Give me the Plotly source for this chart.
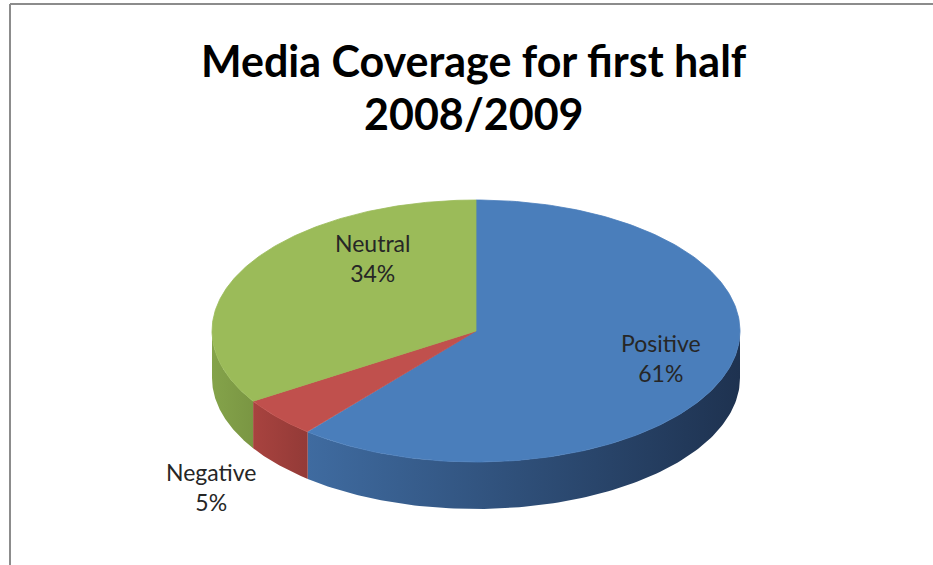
import numpy as np
import plotly.graph_objects as go

categories = ["Positive", "Negative", "Neutral"]
values = [61, 5, 34]
top_colors = ["#4a7ebb", "#c0504d", "#9bbb59"]
wall_colors = [["#3f6ba0", "#1e3250"], ["#a8433f", "#933a37"], ["#84a34a", "#7a9643"]]
label_pos = [(661, 358), (211, 487), (372, 258)]

title_lines = ["Media Coverage for first half", "2008/2009"]

W, H = 933, 565
cx, cy, rx, ry, depth = 476, 331, 264, 131, 47

fig = go.Figure()
total = float(sum(values))
bounds = np.concatenate([[0], np.cumsum(values)]) / total * 360.0


def pt(theta_deg, dy=0.0):
    t = np.radians(theta_deg)
    return cx + rx * np.sin(t), cy - ry * np.cos(t) + dy


# side walls (front half: 90..270 deg clockwise from top)
for i, cat in enumerate(categories):
    a0, a1 = bounds[i], bounds[i + 1]
    b0, b1 = max(a0, 90.0), min(a1, 270.0)
    if b1 <= b0:
        continue
    th = np.linspace(b0, b1, 120)
    xt, yt = pt(th)
    xb, yb = pt(th[::-1], depth)
    xs = np.concatenate([xt, xb, [xt[0]]])
    ys = np.concatenate([yt, yb, [yt[0]]])
    fig.add_trace(go.Scatter(
        x=xs, y=ys, mode="lines", line=dict(width=0),
        fill="toself",
        fillgradient=dict(type="horizontal",
                          colorscale=[[0, wall_colors[i][0]], [1, wall_colors[i][1]]]),
        hoverinfo="skip", showlegend=False))

# top faces
for i, cat in enumerate(categories):
    a0, a1 = bounds[i], bounds[i + 1]
    th = np.linspace(a0, a1, 200)
    xa, ya = pt(th)
    xs = np.concatenate([[cx], xa, [cx]])
    ys = np.concatenate([[cy], ya, [cy]])
    fig.add_trace(go.Scatter(
        x=xs, y=ys, mode="lines", line=dict(width=0.8, color=top_colors[i]),
        fill="toself", fillcolor=top_colors[i],
        name=cat, hoverinfo="name", showlegend=False))

for i, cat in enumerate(categories):
    fig.add_annotation(x=label_pos[i][0], y=label_pos[i][1],
                       text=f"{cat}<br>{values[i]}%", showarrow=False,
                       font=dict(family="Lato", size=23, color="#262626"),
                       align="center")

for line, yy in zip(title_lines, [60, 113]):
    fig.add_annotation(x=474, y=yy, text=f"<b>{line}</b>", showarrow=False,
                       font=dict(family="Lato", size=43, color="#000000"))

# frame
fig.add_shape(type="line", x0=10, x1=10, y0=4, y1=H + 20,
              line=dict(color="#8c8c8c", width=2))
fig.add_shape(type="line", x0=10, x1=W + 20, y0=4, y1=4,
              line=dict(color="#8c8c8c", width=2))

fig.update_layout(
    width=W, height=H, margin=dict(l=0, r=0, t=0, b=0),
    paper_bgcolor="white", plot_bgcolor="white",
    xaxis=dict(range=[0, W], visible=False, fixedrange=True),
    yaxis=dict(range=[H, 0], visible=False, fixedrange=True),
)

fig.write_html("out.html", config={"displayModeBar": False},
               post_script="document.body.style.margin='0';")
